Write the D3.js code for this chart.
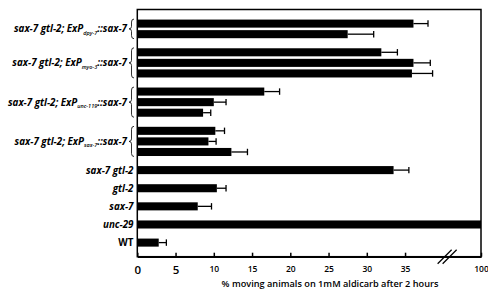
<!DOCTYPE html>
<html>
<head>
<meta charset="utf-8">
<script src="https://cdn.jsdelivr.net/npm/d3@7"></script>
<style>
  body { margin: 0; background: #fff; }
  text { font-family: "Open Sans", sans-serif; }
</style>
</head>
<body>
<div id="chart"></div>
<script>
// genotype labels
const groupPrefix = "sax-7 gtl-2; ExP";
const groupSub = ["dpy-7", "myo-3", "unc-119", "sax-7"];
const groupSuffix = "::sax-7";
const singleLabels = ["sax-7 gtl-2", "gtl-2", "sax-7", "unc-29", "WT"];
const groupSizes = [2, 3, 3, 3, 1, 1, 1, 1, 1];

// % moving animals, top to bottom
const means  = [36.1, 27.5, 31.9, 36.1, 35.9, 16.6, 10.0, 8.6, 10.2, 9.3, 12.3, 33.5, 10.4, 7.9, 100, 2.8];
const errors = [1.9, 3.4, 2.1, 2.2, 2.7, 2.0, 1.6, 1.0, 1.2, 1.0, 2.1, 2.0, 1.2, 1.8, 0, 1.0];

const tickVals = [0, 5, 10, 15, 20, 25, 30, 35, 100];
const breakAt = 40.5;
const xTitle = "% moving animals on 1mM aldicarb after 2 hours";

const width = 488, height = 296;
const margin = {top: 9.5, left: 137.3, right: 7, bottom: 39.3};

const svg = d3.select("#chart").append("svg")
  .attr("width", width)
  .attr("height", height);

// broken axis: 0-40.5 linear, then jump to 100
const x = d3.scaleLinear()
  .domain([0, breakAt, 100])
  .range([margin.left, margin.left + breakAt * 7.65, width - margin.right]);

// row layout: bars packed in groups, bigger gap between groups
const barH = 8, innerGap = 2.5, outerGap = 10;
let pos = outerGap, k = 0;
const rows = [], groups = [];
groupSizes.forEach((n, gi) => {
  const start = pos;
  for (let i = 0; i < n; i++) {
    rows.push({g: gi, y0: pos, v: means[k], e: errors[k]});
    k++;
    pos += barH;
    if (i < n - 1) pos += innerGap;
  }
  groups.push({start: start, end: pos});
  pos += outerGap;
});

const y = d3.scaleLinear()
  .domain([0, pos])
  .range([margin.top, height - margin.bottom]);

// bars
svg.selectAll("rect.bar").data(rows)
  .join("rect")
  .classed("bar", true)
  .attr("x", x(0))
  .attr("y", d => y(d.y0))
  .attr("width", d => x(d.v) - x(0))
  .attr("height", d => y(d.y0 + barH) - y(d.y0))
  .attr("fill", "#000");

// error bars
const eb = svg.selectAll("g.err").data(rows.filter(d => d.e > 0))
  .join("g")
  .classed("err", true)
  .attr("stroke", "#000")
  .attr("stroke-width", 1.3);
eb.append("line")
  .attr("x1", d => x(d.v)).attr("x2", d => x(d.v + d.e))
  .attr("y1", d => y(d.y0 + barH / 2)).attr("y2", d => y(d.y0 + barH / 2));
eb.append("line")
  .attr("x1", d => x(d.v + d.e)).attr("x2", d => x(d.v + d.e))
  .attr("y1", d => y(d.y0 + 0.8)).attr("y2", d => y(d.y0 + barH - 0.8));

// frame
svg.append("rect")
  .attr("x", x(0))
  .attr("y", margin.top)
  .attr("width", x(100) - x(0))
  .attr("height", height - margin.bottom - margin.top)
  .attr("fill", "none")
  .attr("stroke", "#000")
  .attr("stroke-width", 1.5);

// x axis
const xAxis = svg.append("g")
  .attr("transform", `translate(0, ${height - margin.bottom})`)
  .call(d3.axisBottom(x).tickValues(tickVals).tickSizeInner(-4).tickSizeOuter(0).tickPadding(9));
xAxis.select(".domain").attr("stroke-width", 1.5);
xAxis.selectAll(".tick line").attr("stroke-width", 1.5);
xAxis.selectAll(".tick text")
  .attr("font-family", "Open Sans, sans-serif")
  .attr("font-weight", 600)
  .attr("font-size", d => d < 10 ? 11.5 : 8.5)
  .attr("fill", "#000");

// axis break marks
const bx = x(breakAt), by = height - margin.bottom;
[-2.5, 2.5].forEach(off => {
  svg.append("line")
    .attr("x1", bx + off - 7).attr("y1", by + 7)
    .attr("x2", bx + off + 7).attr("y2", by - 7)
    .attr("stroke", "#000")
    .attr("stroke-width", 1.3);
});

svg.append("text")
  .attr("x", 330)
  .attr("y", 287)
  .attr("text-anchor", "middle")
  .attr("font-size", 9.2)
  .attr("font-weight", 600)
  .text(xTitle);

// group labels with braces
groups.forEach((g, gi) => {
  const cy = y((g.start + g.end) / 2);
  if (gi < groupSub.length) {
    const t = svg.append("text")
      .attr("x", 127)
      .attr("y", cy + 3.5)
      .attr("text-anchor", "end")
      .attr("font-size", 9.8)
      .attr("font-style", "italic")
      .attr("font-weight", 700);
    t.append("tspan").text(groupPrefix);
    t.append("tspan").attr("dy", 2.5).attr("font-size", 5.5).attr("font-weight", 600).text(groupSub[gi]);
    t.append("tspan").attr("dy", -2.5).text(groupSuffix);

    const top = y(g.start) - 0.5, bot = y(g.end) + 0.5, mid = (top + bot) / 2;
    const xl = 129, xm = 131.5, xr = 134;
    svg.append("path")
      .attr("d", `M${xr},${top} Q${xm},${top} ${xm},${top + 3} L${xm},${mid - 2.5} Q${xm},${mid} ${xl},${mid}` +
                 ` Q${xm},${mid} ${xm},${mid + 2.5} L${xm},${bot - 3} Q${xm},${bot} ${xr},${bot}`)
      .attr("fill", "none")
      .attr("stroke", "#000")
      .attr("stroke-width", 0.8);
  } else {
    const lab = singleLabels[gi - groupSub.length];
    svg.append("text")
      .attr("x", 133.5)
      .attr("y", cy + 3.5)
      .attr("text-anchor", "end")
      .attr("font-size", 9.8)
      .attr("font-style", lab === "WT" ? "normal" : "italic")
      .attr("font-weight", 700)
      .text(lab);
  }
});
</script>
</body>
</html>
